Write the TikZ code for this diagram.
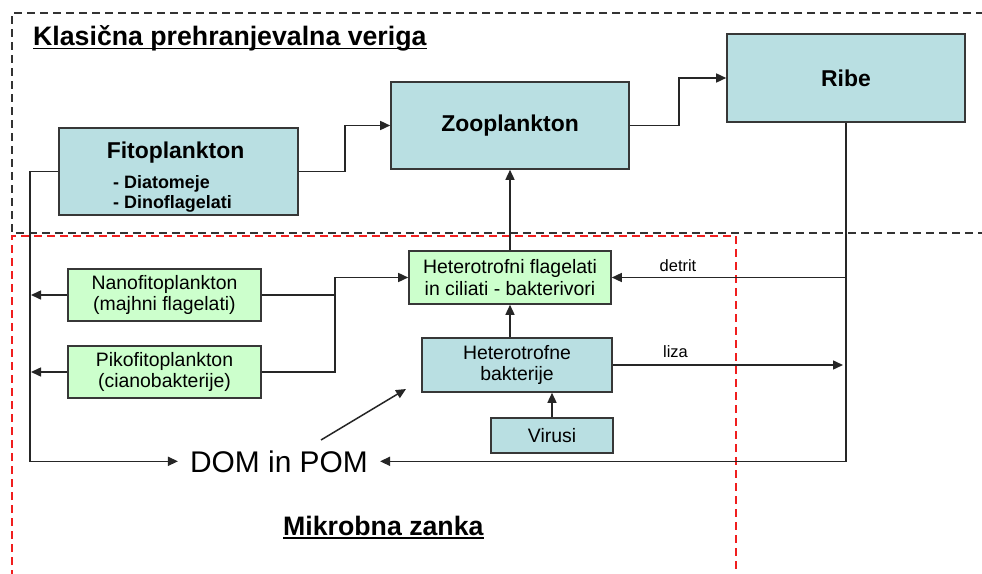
\documentclass[tikz,border=0pt]{standalone}
\usepackage{fontspec}
\setmainfont{Liberation Sans}
\usetikzlibrary{arrows.meta}
\definecolor{boxblue}{RGB}{185,223,226}
\definecolor{boxgreen}{RGB}{204,255,204}
\definecolor{edgegray}{RGB}{55,55,55}
\definecolor{redash}{RGB}{240,30,30}
\begin{document}
\begin{tikzpicture}[x=1bp,y=-1bp,
  bluebox/.style={draw=edgegray, line width=1.6bp, fill=boxblue, inner sep=0pt},
  greenbox/.style={draw=edgegray, line width=1.6bp, fill=boxgreen, inner sep=0pt},
  bigbold/.style={font=\fontsize{23}{26}\selectfont\bfseries},
  itemtxt/.style={font=\fontsize{18}{20}\selectfont\bfseries, inner sep=0pt, anchor=base west},
  smalltxt/.style={font=\fontsize{19.5}{21.5}\selectfont, align=center},
  lbltxt/.style={font=\fontsize{16.5}{18}\selectfont, inner sep=0pt, anchor=base},
  headtxt/.style={font=\fontsize{26.8}{30}\selectfont\bfseries, inner sep=0pt, anchor=base west},
  conn/.style={line width=1.5bp, draw=black!85},
  arr/.style={conn, -{Triangle[length=10bp,width=9bp]}},
  blackdash/.style={line width=2.2bp, draw=black!80, dash pattern=on 8bp off 5bp},
  reddash/.style={line width=2.2bp, draw=redash, dash pattern=on 8bp off 5bp}
]
\useasboundingbox (0,0) rectangle (982,574);
\fill[white] (0,0) rectangle (982,574);

% regions
\draw[blackdash] (984,13) -- (12,13) -- (12,233) -- (984,233);
\draw[reddash] (12,578) -- (12,236) -- (736,236) -- (736,578);

% headings
\node[headtxt] (title) at (33,45.5) {Klasična prehranjevalna veriga};
\draw[line width=1.7bp] ([yshift=-3bp]title.base west) -- ([yshift=-3bp]title.base east);
\node[headtxt] (mikro) at (283,535) {Mikrobna zanka};
\draw[line width=1.7bp] ([yshift=-3bp]mikro.base west) -- ([yshift=-3bp]mikro.base east);

% classical chain boxes
\node[bluebox, minimum width=239bp, minimum height=87bp] (fito) at (178.5,171.5) {};
\node[bigbold, anchor=base, inner sep=0pt] (fitoT) at (175.5,159) {Fitoplankton};
\node[itemtxt] (fitoA) at (113,189) {- Diatomeje};
\node[itemtxt] (fitoB) at (113,208.5) {- Dinoflagelati};
\node[bluebox, bigbold, minimum width=238bp, minimum height=87bp] (zoo) at (510,125.5) {Zooplankton};
\node[bluebox, bigbold, minimum width=238bp, minimum height=88bp] (ribe) at (846,78) {Ribe};

% microbial loop boxes
\node[greenbox, smalltxt, minimum width=202bp, minimum height=53bp] (hetf) at (510,277.5) {Heterotrofni flagelati\\in ciliati - bakterivori};
\node[greenbox, smalltxt, minimum width=193bp, minimum height=52bp] (nano) at (164.5,295) {Nanofitoplankton\\(majhni flagelati)};
\node[greenbox, smalltxt, minimum width=193bp, minimum height=52bp] (piko) at (164.5,372) {Pikofitoplankton\\(cianobakterije)};
\node[bluebox, smalltxt, minimum width=190bp, minimum height=54bp] (hetb) at (517,365) {Heterotrofne\\bakterije};
\node[bluebox, smalltxt, minimum width=122bp, minimum height=35bp] (vir) at (552,435.5) {Virusi};
\node[font=\fontsize{30}{32}\selectfont, inner xsep=12bp, inner ysep=0pt, anchor=base] (dom) at (279,472) {DOM in POM};

% helper coordinates
\coordinate (lx) at (30,0);
\coordinate (jx) at (335,0);
\coordinate (ds) at (321,440);
\coordinate (de) at (406,389);
\coordinate (lizaend) at (843,365);

% connectors
\draw[arr] (fito.east) -- ++(46,0) |- (zoo.west);
\draw[arr] (zoo.east) -- ++(49,0) |- (ribe.west);
\draw[arr] (fito.west) -- (fito.west -| lx) |- (dom.west);
\draw[arr] (ribe.south) |- (dom.east);
\coordinate (dj) at (ribe.south |- hetf.east);
\draw[arr] (dj) -- (hetf.east);
\draw[arr] (hetf.north) -- (zoo.south);
\draw[arr] (nano.west) -- ([xshift=1bp]nano.west -| lx);
\draw[arr] (piko.west) -- ([xshift=1bp]piko.west -| lx);
\draw[conn] (nano.east) -- (nano.east -| jx);
\draw[arr] (piko.east) -- (piko.east -| jx) |- (hetf.west);
\draw[arr] (hetb.north -| hetf.south) -- (hetf.south);
\draw[arr] (vir.north) -- (vir.north |- hetb.south);
\draw[arr] (hetb.east) -- (lizaend);
\draw[arr] (ds) -- (de);

% labels
\node[lbltxt] (detrit) at (678,271.5) {detrit};
\node[lbltxt] (liza) at (675.5,357.5) {liza};
\end{tikzpicture}
\end{document}
